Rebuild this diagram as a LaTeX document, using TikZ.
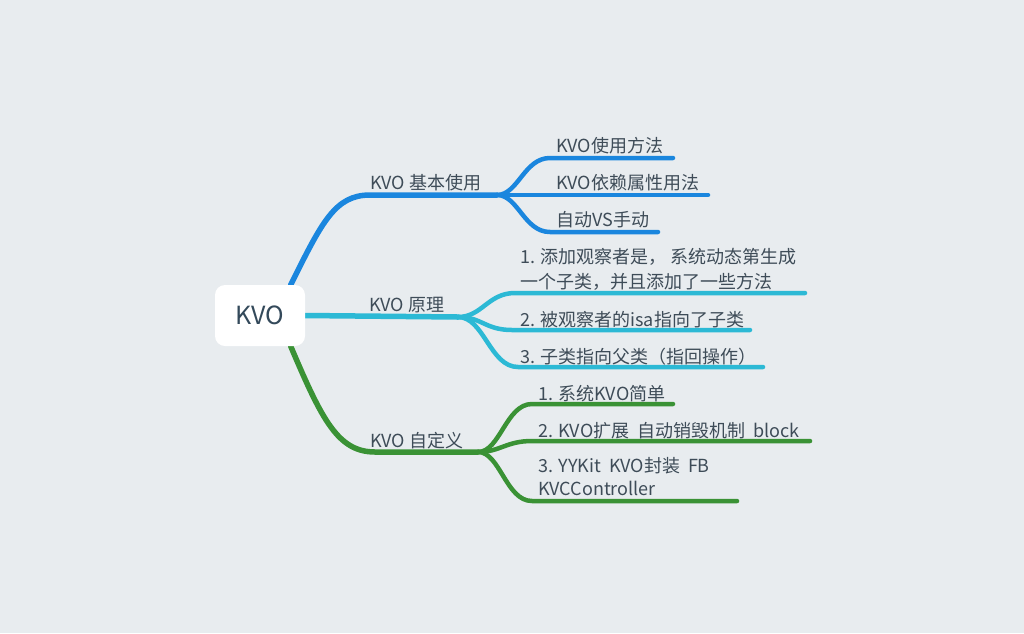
\documentclass[tikz,border=0pt]{standalone}
\usepackage{fontspec}
\setmainfont{Noto Sans CJK SC}
\definecolor{bgc}{HTML}{E8ECEF}
\definecolor{bluec}{HTML}{1A86DE}
\definecolor{cyanc}{HTML}{2CB9D5}
\definecolor{greenc}{HTML}{3A9235}
\definecolor{txtc}{HTML}{3E4C58}
\definecolor{roottxt}{HTML}{33495A}
\pgfdeclarelayer{back}
\pgfdeclarelayer{lines}
\pgfsetlayers{back,lines,main}
\begin{document}
\begin{tikzpicture}[x=1pt,y=1pt,
  lbl/.style={anchor=west, inner sep=0pt, font=\fontsize{18}{24}\selectfont, text=txtc},
  mainln/.style={line width=5.5pt, line cap=round},
  subln/.style={line width=4.5pt, line cap=round},
  rootbox/.style={fill=white, rounded corners=10pt, minimum width=90pt, minimum height=61pt, inner sep=0pt, font=\fontsize{25}{30}\selectfont, text=roottxt}]
\begin{pgfonlayer}{back}
\fill[bgc] (0,0) rectangle (1024,-633);
\end{pgfonlayer}
\useasboundingbox (0,0) rectangle (1024,-633);

\node[rootbox] (root) at (260,-315.5) {KVO};

% labels
\node[lbl] (b1) at (370,-183) {KVO 基本使用};
\node[lbl] (b11) at (556,-145.5) {KVO使用方法};
\node[lbl] (b12) at (556,-183) {KVO依赖属性用法};
\node[lbl] (b13) at (556,-220) {自动VS手动};

\node[lbl] (c1) at (369,-305.5) {KVO 原理};
\node[lbl, align=left, font=\fontsize{18}{25}\selectfont] (c11) at (520,-269.6) {1. 添加观察者是，\ 系统动态第生成\\一个子类，并且添加了一些方法};
\node[lbl] (c12) at (520,-319.5) {2. 被观察者的isa指向了子类};
\node[lbl] (c13) at (520,-356.5) {3. 子类指向父类（指回操作）};

\node[lbl] (g1) at (370,-441) {KVO 自定义};
\node[lbl] (g11) at (538,-394) {1. 系统KVO简单};
\node[lbl] (g12) at (538,-430.5) {2. KVO扩展\ \ 自动销毁机制\ \ block};
\node[lbl, align=left, font=\fontsize{18}{23}\selectfont] (g13) at (538,-477) {3. YYKit\ \ KVO封装\ \ FB\\KVCController};

% junctions and free ends
\coordinate (jb) at (497,-195);
\coordinate (jc) at (458,-317);
\coordinate (jg) at (478,-452);
\coordinate (eb1) at (673,-158);
\coordinate (eb2) at (708,-195);
\coordinate (eb3) at (658,-232);
\coordinate (ec1) at (805,-293);
\coordinate (ec2) at (750,-330);
\coordinate (ec3) at (763,-367);
\coordinate (eg1) at (673,-404);
\coordinate (eg2) at (810,-441);
\coordinate (eg3) at (737,-501);

\begin{pgfonlayer}{lines}
% blue
\draw[mainln, bluec] (root.45) .. controls (322,-222) and (335,-195) .. (370,-195) -- (jb);
\draw[subln, bluec] (jb) .. controls (518,-195) and (524,-158) .. (550,-158) -- (eb1);
\draw[subln, bluec] (jb) -- (eb2);
\draw[subln, bluec] (jb) .. controls (518,-195) and (524,-232) .. (550,-232) -- (eb3);
% cyan
\draw[mainln, cyanc] (root.east) -- (jc);
\draw[subln, cyanc] (jc) .. controls (482,-317) and (488,-293) .. (515,-293) -- (ec1);
\draw[subln, cyanc] (jc) .. controls (482,-317) and (485,-330) .. (512,-330) -- (ec2);
\draw[subln, cyanc] (jc) .. controls (484,-317) and (490,-367) .. (518,-367) -- (ec3);
% green
\draw[mainln, greenc] (root.-45) .. controls (322,-420) and (338,-452) .. (375,-452) -- (jg);
\draw[subln, greenc] (jg) .. controls (500,-452) and (506,-404) .. (532,-404) -- (eg1);
\draw[subln, greenc] (jg) .. controls (500,-452) and (506,-441) .. (532,-441) -- (eg2);
\draw[subln, greenc] (jg) .. controls (500,-452) and (506,-501) .. (532,-501) -- (eg3);
\end{pgfonlayer}
\end{tikzpicture}
\end{document}
